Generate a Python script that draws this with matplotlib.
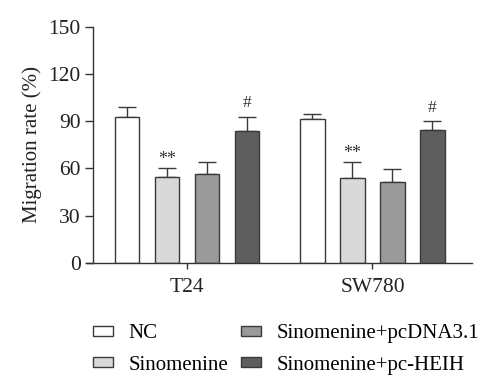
import numpy as np
import matplotlib
matplotlib.use('Agg')
import matplotlib.pyplot as plt
from matplotlib.patches import Patch

plt.rcParams['font.family'] = ['Liberation Serif', 'DejaVu Serif']

cells = ['T24', 'SW780']
groups = ['NC', 'Sinomenine', 'Sinomenine+pcDNA3.1', 'Sinomenine+pc-HEIH']
t24_mean = [92.9, 54.4, 56.7, 83.8]
t24_err = [6.4, 5.7, 7.4, 9.1]
sw780_mean = [91.2, 53.8, 51.4, 84.4]
sw780_err = [3.4, 10.1, 8.3, 5.8]
marks = ['', '**', '', '#']

colors = ['#ffffff', '#d9d9d9', '#9a9a9a', '#5e5e5e']
edge = '#3a3a3a'
fs = 15

fig = plt.figure(figsize=(5.0, 3.9), dpi=100)
ax = fig.add_axes([0.1867, 0.3256, 0.7566, 0.6059])

centers = [0.0, 4.64]
width = 0.62
means = [t24_mean, sw780_mean]
errs = [t24_err, sw780_err]
for c, m, e in zip(centers, means, errs):
    xs = c + np.arange(4) - 1.5
    ax.bar(xs, m, width, color=colors, edgecolor=edge, linewidth=1.0, zorder=2)
    ax.errorbar(xs, m, yerr=[np.zeros(4), e], fmt='none', ecolor=edge,
                elinewidth=1.0, capsize=6.5, capthick=1.0, zorder=1)
    for x, v, er, t in zip(xs, m, e, marks):
        if t == '**':
            ax.text(x, v + er + 5.5, t, ha='center', va='center', fontsize=13, color='#333333')
        elif t == '#':
            ax.text(x, v + er + 8.5, t, ha='center', va='center', fontsize=12.5, color='#333333')

ax.set_xlim(-2.34, 7.12)
ax.set_ylim(0, 150)
ax.set_yticks(np.arange(0, 151, 30))
ax.set_xticks(centers)
ax.set_xticklabels(cells)
ax.tick_params(axis='y', labelsize=15.5, length=6, width=1.0, colors='#333333', labelcolor='#222222', pad=3)
ax.tick_params(axis='x', labelsize=15.5, length=4, width=1.0, colors='#333333', labelcolor='#222222', pad=7)
ax.set_ylabel('Migration rate (%)', fontsize=fs, color='#222222', labelpad=5)
for s in ['top', 'right']:
    ax.spines[s].set_visible(False)
for s in ['left', 'bottom']:
    ax.spines[s].set_color('#333333')
    ax.spines[s].set_linewidth(1.0)
ax.spines['bottom'].set_bounds(-2.5, 7.12)

handles = [Patch(facecolor=col, edgecolor=edge, linewidth=1.0) for col in colors]
fig.legend(handles, groups, loc='upper left', bbox_to_anchor=(0.186, 0.168), ncol=2,
           frameon=False, fontsize=fs, handlelength=0.96, handleheight=0.34,
           handletextpad=0.75, columnspacing=0.6, labelspacing=0.58, borderpad=0,
           borderaxespad=0)

fig.savefig('out.png', dpi=100)
